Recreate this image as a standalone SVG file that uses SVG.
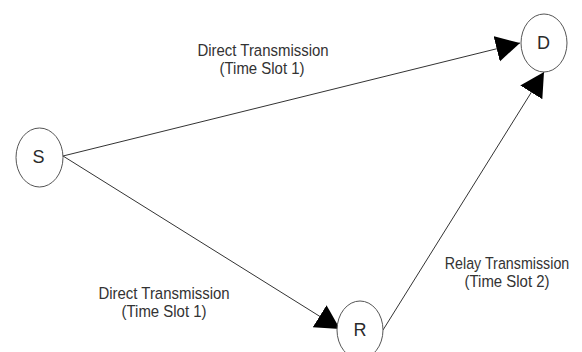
<svg xmlns="http://www.w3.org/2000/svg" width="582" height="352" viewBox="0 0 582 352">
<defs>
<style>
.node{fill:#fff;stroke:#555;stroke-width:1}
.lbl{font-family:"Liberation Sans",Arial,sans-serif;font-size:18px;fill:#2a2a2a;text-anchor:middle}
.edge{stroke:#333;stroke-width:1;fill:none;marker-end:url(#ah)}
.cap{font-family:"Liberation Sans",Arial,sans-serif;font-size:17px;fill:#333;text-anchor:middle}
</style>
<marker id="ah" markerUnits="userSpaceOnUse" markerWidth="26" markerHeight="28" refX="24" refY="13" orient="auto" viewBox="0 0 26 28">
<path d="M0,0 L24,13 L0,26 z" fill="#000"/>
</marker>
</defs>
<rect width="582" height="352" fill="#fff"/>
<g id="connectors">
<line class="edge" x1="63" y1="156" x2="520" y2="43"/>
<line class="edge" x1="63" y1="156" x2="340" y2="329"/>
<line class="edge" x1="383" y1="330" x2="544" y2="72"/>
</g>
<g id="node-S">
<ellipse class="node" cx="39.5" cy="157.5" rx="23.5" ry="29.5"/>
<text class="lbl" x="38.5" y="163">S</text>
</g>
<g id="node-D">
<ellipse class="node" cx="544" cy="43" rx="23" ry="29"/>
<text class="lbl" x="543.5" y="49">D</text>
</g>
<g id="node-R">
<ellipse class="node" cx="360" cy="330" rx="23" ry="29"/>
<text class="lbl" x="360" y="336">R</text>
</g>
<g id="labels">
<text class="cap" transform="translate(263,55.5) scale(0.88,1)">Direct Transmission</text>
<text class="cap" transform="translate(262,73.5) scale(0.88,1)">(Time Slot 1)</text>
<text class="cap" transform="translate(164,299) scale(0.88,1)">Direct Transmission</text>
<text class="cap" transform="translate(164,317) scale(0.88,1)">(Time Slot 1)</text>
<text class="cap" transform="translate(507,269) scale(0.84,1)">Relay Transmission</text>
<text class="cap" transform="translate(507,287) scale(0.88,1)">(Time Slot 2)</text>
</g>
</svg>
